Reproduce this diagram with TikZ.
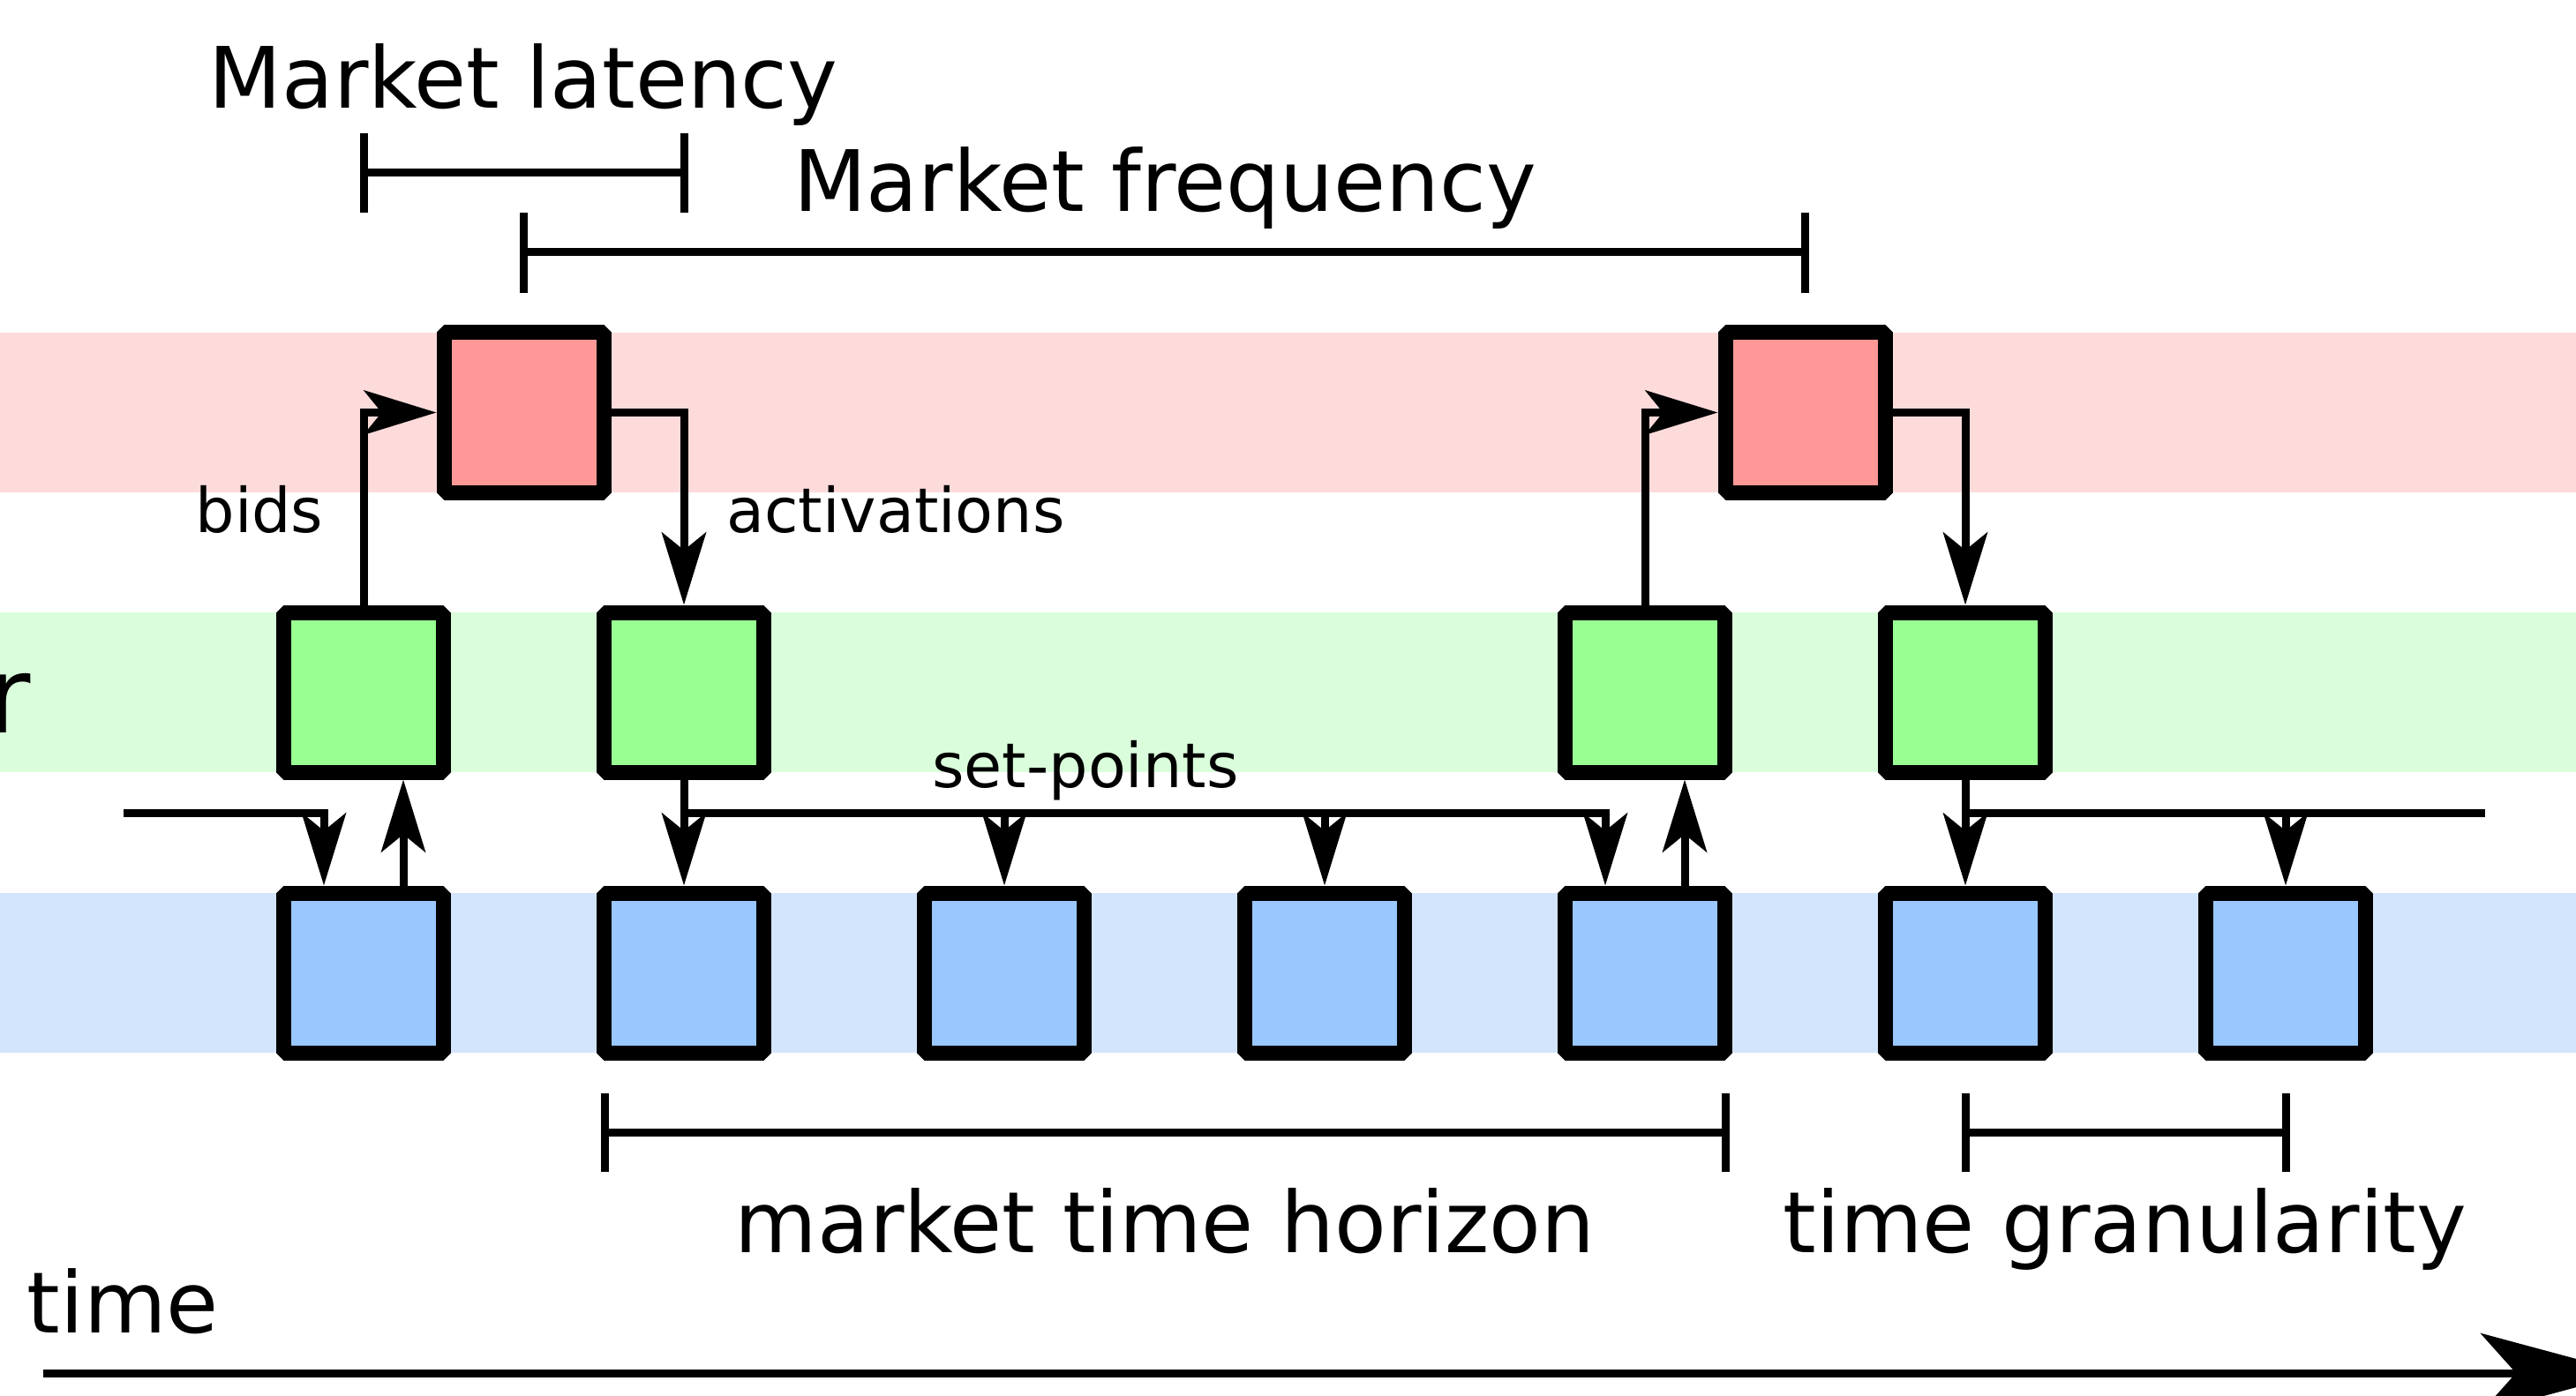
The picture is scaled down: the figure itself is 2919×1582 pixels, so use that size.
\documentclass[tikz,border=0pt]{standalone}
\usepackage{fontspec}
\setmainfont{DejaVu Sans}
\usetikzlibrary{arrows.meta,calc}
\definecolor{redband}{HTML}{FDDBDB}
\definecolor{redbox}{HTML}{FF9896}
\definecolor{greenband}{HTML}{DAFEDB}
\definecolor{greenbox}{HTML}{99FF93}
\definecolor{blueband}{HTML}{D3E5FD}
\definecolor{bluebox}{HTML}{99C7FE}
\tikzset{
  box/.style={draw=black, line width=4.25pt, line join=bevel, minimum size=45.25pt, inner sep=0pt},
  mkt/.style={box, fill=redbox},
  agg/.style={box, fill=greenbox},
  dev/.style={box, fill=bluebox},
  conn/.style={line width=2.25pt, -{Stealth[length=20.5pt,width=12.5pt,inset=5pt]}},
  plain/.style={line width=2.25pt},
  dimbar/.style={line width=2.25pt},
  big/.style={inner sep=0pt, anchor=base, font=\fontsize{24pt}{28pt}\selectfont},
  small/.style={inner sep=0pt, anchor=base, font=\fontsize{17.5pt}{21pt}\selectfont},
}
\begin{document}
\begin{tikzpicture}[x=0.25pt, y=-0.25pt]
\useasboundingbox (0,0) rectangle (2919,1582);
% bands
\fill[redband] (0,377) rectangle (2919,558);
\fill[greenband] (0,694) rectangle (2919,875);
\fill[blueband] (0,1012) rectangle (2919,1193);
% market boxes
\node[mkt] (r0) at (593.5,467.5) {};
\node[mkt] (r1) at (2045.5,467.5) {};
% aggregator boxes
\node[agg] (g0) at (412,784.5) {};
\node[agg] (g1) at (775,784.5) {};
\node[agg] (g4) at (1864,784.5) {};
\node[agg] (g5) at (2227,784.5) {};
% device boxes
\foreach \i in {0,...,6} {
  \node[dev] (b\i) at ({412+363*\i},1102.5) {};
}
% bids / activations
\draw[conn] (g0.north) |- (r0.west);
\draw[conn] (r0.east) -| (g1.north);
\draw[conn] (g4.north) |- (r1.west);
\draw[conn] (r1.east) -| (g5.north);
% device -> aggregator
\draw[conn] ($(b0.north)+(45,0)$) -- ($(g0.south)+(45,0)$);
\draw[conn] ($(b4.north)+(45,0)$) -- ($(g4.south)+(45,0)$);
% set-points
\coordinate (in0) at (140,921);
\draw[conn] (in0) -| ($(b0.north)+(-45,0)$);
\coordinate (j1) at (775,921);
\draw[conn] (g1.south) -- (b1.north);
\draw[conn] (j1) -| (b2.north);
\draw[conn] (j1) -| (b3.north);
\draw[conn] (j1) -| ($(b4.north)+(-45,0)$);
\coordinate (j5) at (2227,921);
\coordinate (out5) at (2816,921);
\draw[conn] (g5.south) -- (b5.north);
\draw[conn] (j5) -| (b6.north);
\draw[plain] (j5) -- (out5);
% dimension bars
\draw[dimbar] (412,151) -- (412,241) (412,196) -- (775,196) (775,151) -- (775,241);
\draw[dimbar] (593.5,241) -- (593.5,332) (593.5,286) -- (2045.5,286) (2045.5,241) -- (2045.5,332);
\draw[dimbar] (685,1239) -- (685,1328) (685,1283) -- (1955,1283) (1955,1239) -- (1955,1328);
\draw[dimbar] (2227,1239) -- (2227,1328) (2227,1283) -- (2590,1283) (2590,1239) -- (2590,1328);
% labels
\node[big] (tlat) at (593,123) {Market latency};
\node[big] (tfreq) at (1320,240) {Market frequency};
\node[small] (tbids) at (294,603) {bids};
\node[small] (tact) at (1015,603) {activations};
\node[small] (tsp) at (1230,892) {set-points};
\node[big] (thor) at (1320,1419) {market time horizon};
\node[big] (tgran) at (2408,1419) {time granularity};
\node[big, anchor=base west] (ttime) at (30,1510) {time};
\node[inner sep=0pt, anchor=base east, font=\fontsize{30pt}{36pt}\selectfont] (tr) at (36,830) {r};
% time axis
\coordinate (t0) at (49,1556);
\coordinate (t1) at (2979,1556);
\draw[line width=2.25pt, -{Stealth[length=42pt,width=22.5pt,inset=10pt]}] (t0) -- (t1);
\end{tikzpicture}
\end{document}
